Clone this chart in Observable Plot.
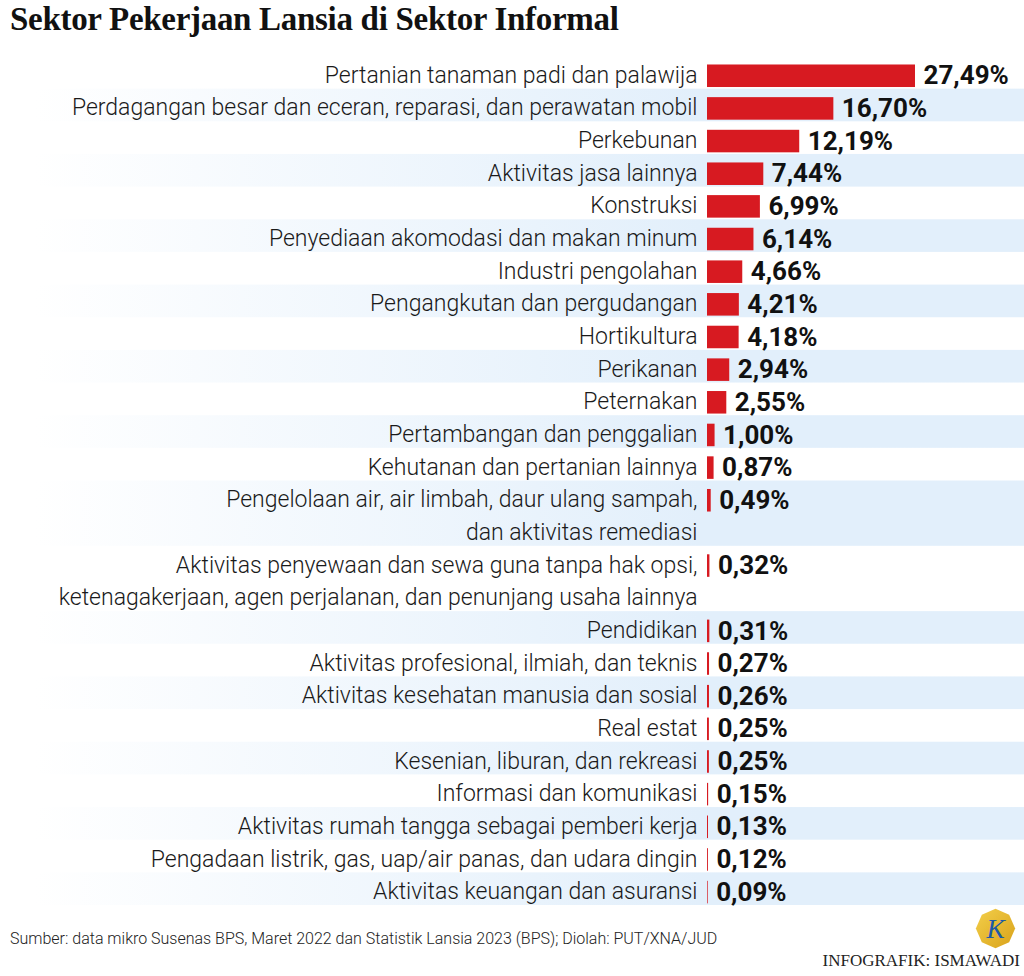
<!DOCTYPE html>
<html>
<head>
<meta charset="utf-8">
<script src="https://cdn.jsdelivr.net/npm/d3@7"></script>
<script src="https://cdn.jsdelivr.net/npm/@observablehq/plot@0.6"></script>
<style>
  html, body { margin: 0; padding: 0; background: #fff; }
  #wrap { position: relative; width: 1024px; height: 976px; overflow: hidden; }
  #title { position: absolute; left: 10px; top: 1px; font-family: "Liberation Serif", serif; font-weight: 700; font-size: 33px; color: #111; letter-spacing: -0.3px; white-space: nowrap; }
  #chart { position: absolute; left: 0; top: 50px; }
  #source { position: absolute; left: 10px; top: 929px; font-family: Roboto, sans-serif; font-weight: 300; font-size: 16px; color: #222; white-space: nowrap; }
  #credit { position: absolute; right: 4px; top: 951px; font-family: "Liberation Serif", serif; font-size: 17px; color: #222; white-space: nowrap; }
  #logo { position: absolute; left: 975px; top: 908px; }
</style>
</head>
<body>
<div id="wrap">
  <div id="title">Sektor Pekerjaan Lansia di Sektor Informal</div>
  <div id="chart"></div>
  <div id="source">Sumber: data mikro Susenas BPS, Maret 2022 dan Statistik Lansia 2023 (BPS); Diolah: PUT/XNA/JUD</div>
  <svg id="logo" width="41" height="41" viewBox="0 0 48 48">
    <defs>
      <linearGradient id="gold" x1="0" y1="0" x2="1" y2="1">
        <stop offset="0" stop-color="#f3cf4a"/>
        <stop offset="1" stop-color="#d9a21a"/>
      </linearGradient>
    </defs>
    <polygon points="24,1 40,8 47,24 40,40 24,47 8,40 1,24 8,8" fill="url(#gold)"/>
    <text x="24" y="35" text-anchor="middle" font-family="Liberation Serif, serif" font-style="italic" font-size="32" fill="#1c5aa8">K</text>
  </svg>
  <div id="credit">INFOGRAFIK: ISMAWADI</div>
</div>
<script>
const sectors = [
  "Pertanian tanaman padi dan palawija",
  "Perdagangan besar dan eceran, reparasi, dan perawatan mobil",
  "Perkebunan",
  "Aktivitas jasa lainnya",
  "Konstruksi",
  "Penyediaan akomodasi dan makan minum",
  "Industri pengolahan",
  "Pengangkutan dan pergudangan",
  "Hortikultura",
  "Perikanan",
  "Peternakan",
  "Pertambangan dan penggalian",
  "Kehutanan dan pertanian lainnya",
  "Pengelolaan air, air limbah, daur ulang sampah,\ndan aktivitas remediasi",
  "Aktivitas penyewaan dan sewa guna tanpa hak opsi,\nketenagakerjaan, agen perjalanan, dan penunjang usaha lainnya",
  "Pendidikan",
  "Aktivitas profesional, ilmiah, dan teknis",
  "Aktivitas kesehatan manusia dan sosial",
  "Real estat",
  "Kesenian, liburan, dan rekreasi",
  "Informasi dan komunikasi",
  "Aktivitas rumah tangga sebagai pemberi kerja",
  "Pengadaan listrik, gas, uap/air panas, dan udara dingin",
  "Aktivitas keuangan dan asuransi"
];
const shares = [27.49, 16.70, 12.19, 7.44, 6.99, 6.14, 4.66, 4.21, 4.18, 2.94, 2.55, 1.00, 0.87, 0.49, 0.32, 0.31, 0.27, 0.26, 0.25, 0.25, 0.15, 0.13, 0.12, 0.09];

// build row table: each row spans as many units as it has label lines
let unit = 0;
const rows = sectors.map((s, i) => {
  const lines = s.split("\n");
  const r = {i, label: s, lines, value: shares[i], start: unit, span: lines.length};
  unit += lines.length;
  return r;
});
const totalUnits = unit;
const lineRows = rows.flatMap(r => r.lines.map((t, k) => ({text: t, pos: r.start + k + 0.58})));
const fmt = v => v.toFixed(2).replace(".", ",") + "%";

const W = 1024, H = 862;
const pxPerPct = 7.566, zeroX = 707;
const xDomain = [-zeroX / pxPerPct, (W - zeroX) / pxPerPct];

const chart = Plot.plot({
  width: W,
  height: H,
  marginLeft: 0,
  marginRight: 0,
  marginTop: 6,
  marginBottom: 7,
  style: {fontFamily: "Roboto, sans-serif", background: "transparent", overflow: "visible"},
  x: {domain: xDomain, axis: null},
  y: {domain: [0, totalUnits], reverse: true, axis: null},
  marks: [
    Plot.rect(rows.filter(r => r.i % 2 === 1), {
      x1: xDomain[0], x2: xDomain[1],
      y1: "start", y2: d => d.start + d.span,
      fill: "url(#stripeGrad)"
    }),
    Plot.rect(rows, {
      x1: 0, x2: "value",
      y1: d => d.start + 0.26, y2: d => d.start + 0.95,
      fill: "#d71a21"
    }),
    Plot.text(lineRows, {
      x: 0, y: "pos", text: "text",
      textAnchor: "end", dx: -10,
      fontSize: 23, fontWeight: 300, fill: "#1a1a1a"
    }),
    Plot.text(rows, {
      x: "value", y: d => d.start + 0.6, text: d => fmt(d.value),
      textAnchor: "start", dx: 8,
      fontSize: 26, fontWeight: 700, fill: "#111"
    })
  ]
});

const defs = document.createElementNS("http://www.w3.org/2000/svg", "defs");
defs.innerHTML = `<linearGradient id="stripeGrad" gradientUnits="userSpaceOnUse" x1="35" y1="0" x2="700" y2="0">
  <stop offset="0" stop-color="#e2effb" stop-opacity="0"/>
  <stop offset="1" stop-color="#e2effb" stop-opacity="1"/>
</linearGradient>`;
chart.insertBefore(defs, chart.firstChild);
document.getElementById("chart").appendChild(chart);
</script>
</body>
</html>
